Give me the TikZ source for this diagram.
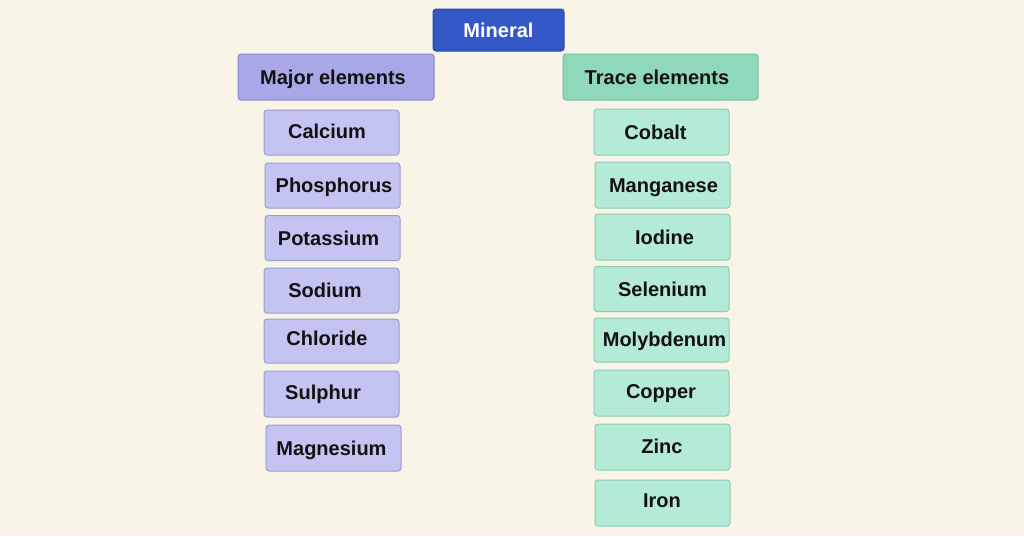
\documentclass[tikz,border=0pt]{standalone}
\usepackage{fontspec}
\setmainfont{Liberation Sans}
\definecolor{bg}{HTML}{F8F4E7}
\definecolor{minfill}{HTML}{3558C8}
\definecolor{mindraw}{HTML}{2A47A6}
\definecolor{majfill}{HTML}{A8A8E8}
\definecolor{majdraw}{HTML}{8A8AC6}
\definecolor{lfill}{HTML}{C4C4F3}
\definecolor{ldraw}{HTML}{9C9CD0}
\definecolor{trfill}{HTML}{8FD9BA}
\definecolor{trdraw}{HTML}{76BD9E}
\definecolor{rfill}{HTML}{B4EBD6}
\definecolor{rdraw}{HTML}{8CCCB1}
\definecolor{ink}{HTML}{111111}
\tikzset{
  box/.style={rectangle, rounded corners=3pt, line width=1pt, inner sep=0pt, outer sep=0pt},
  lbl/.style={font=\fontsize{20}{20}\selectfont\bfseries, text=ink, inner sep=0pt, text height=14.3pt, text depth=0pt},
  minbox/.style={box, fill=minfill, draw=mindraw, minimum width=131pt, minimum height=42pt},
  majbox/.style={box, fill=majfill, draw=majdraw, minimum width=196pt, minimum height=46pt},
  trbox/.style={box, fill=trfill, draw=trdraw, minimum width=195pt, minimum height=46pt},
  lbox/.style={box, fill=lfill, draw=ldraw, minimum width=135pt, minimum height=45pt},
  rbox/.style={box, fill=rfill, draw=rdraw, minimum width=135pt, minimum height=45pt},
}
\begin{document}
\begin{tikzpicture}[x=1pt, y=-1pt]
\useasboundingbox (0,0) rectangle (1024,536);
\fill[bg] (0,0) rectangle (1024,536);

\node[minbox, label={[lbl, text=white]center:Mineral}] (mineral) at (498.5,30) {};
\node[majbox, label={[lbl, xshift=-3pt]center:Major elements}] (major) at (336,77) {};
\node[trbox, label={[lbl, xshift=-3.5pt]center:Trace elements}] (trace) at (660.5,77) {};

% major elements
\node[lbox, label={[lbl, xshift=-4.5pt, yshift=1pt]center:Calcium}] (calcium) at (331.5,132.5) {};
\node[lbox, label={[lbl, xshift=1.5pt]center:Phosphorus}] (phosphorus) at (332.5,185.5) {};
\node[lbox, label={[lbl, xshift=-4pt]center:Potassium}] (potassium) at (332.5,238) {};
\node[lbox, label={[lbl, xshift=-6.5pt]center:Sodium}] (sodium) at (331.5,290.5) {};
\node[lbox, minimum height=44pt, label={[lbl, xshift=-4.5pt, yshift=2.5pt]center:Chloride}] (chloride) at (331.5,341) {};
\node[lbox, minimum height=46pt, label={[lbl, xshift=-8.5pt, yshift=2pt]center:Sulphur}] (sulphur) at (331.5,394) {};
\node[lbox, minimum height=46pt, label={[lbl, xshift=-2pt]center:Magnesium}] (magnesium) at (333.5,448) {};

% trace elements
\node[rbox, minimum height=46pt, label={[lbl, xshift=-6pt]center:Cobalt}] (cobalt) at (661.5,132) {};
\node[rbox, minimum height=46pt, label={[lbl, xshift=1pt]center:Manganese}] (manganese) at (662.5,185) {};
\node[rbox, minimum height=46pt, label={[lbl, xshift=2pt]center:Iodine}] (iodine) at (662.5,237) {};
\node[rbox, label={[lbl, xshift=1pt]center:Selenium}] (selenium) at (661.5,289) {};
\node[rbox, minimum height=44pt, label={[lbl, xshift=3pt, yshift=1pt]center:Molybdenum}] (molybdenum) at (661.5,340) {};
\node[rbox, minimum height=46pt, label={[lbl, xshift=-0.5pt, yshift=2pt]center:Copper}] (copper) at (661.5,393) {};
\node[rbox, minimum height=46pt, label={[lbl, xshift=-0.5pt, yshift=1pt]center:Zinc}] (zinc) at (662.5,447) {};
\node[rbox, minimum height=46pt, label={[lbl, xshift=-0.5pt, yshift=3pt]center:Iron}] (iron) at (662.5,503) {};
\end{tikzpicture}
\end{document}
